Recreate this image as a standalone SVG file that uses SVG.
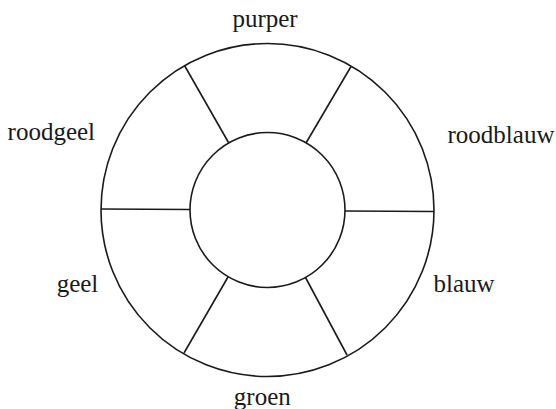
<svg xmlns="http://www.w3.org/2000/svg" width="556" height="409" viewBox="0 0 556 409">
<style>
.ring{fill:none;stroke:#1a1a1a;stroke-width:1.6}
.spoke{stroke:#1a1a1a;stroke-width:1.6}
.lbl{font-family:"Liberation Serif","DejaVu Serif",serif;font-size:25px;fill:#1a1a1a;text-anchor:middle}
</style>
<rect width="556" height="409" fill="#fff"/>
<g id="wheel">
<circle class="ring" cx="267.5" cy="210" r="166.5"/>
<circle class="ring" cx="267.5" cy="210" r="77.5"/>
</g>
<g id="connectors">
<line class="spoke" x1="101" y1="209" x2="190" y2="209.5"/>
<line class="spoke" x1="345" y1="211" x2="434" y2="211.5"/>
<line class="spoke" x1="184.5" y1="65.5" x2="228.5" y2="142.5"/>
<line class="spoke" x1="351" y1="66.5" x2="306" y2="143"/>
<line class="spoke" x1="184" y1="353" x2="228" y2="277"/>
<line class="spoke" x1="347" y1="355" x2="305.5" y2="277.5"/>
</g>
<g id="purper"><text class="lbl" x="265" y="27">purper</text></g>
<g id="roodgeel"><text class="lbl" x="51.3" y="140">roodgeel</text></g>
<g id="roodblauw"><text class="lbl" x="501" y="143">roodblauw</text></g>
<g id="geel"><text class="lbl" x="77.5" y="292">geel</text></g>
<g id="blauw"><text class="lbl" x="464" y="292">blauw</text></g>
<g id="groen"><text class="lbl" x="262.3" y="405">groen</text></g>
</svg>
